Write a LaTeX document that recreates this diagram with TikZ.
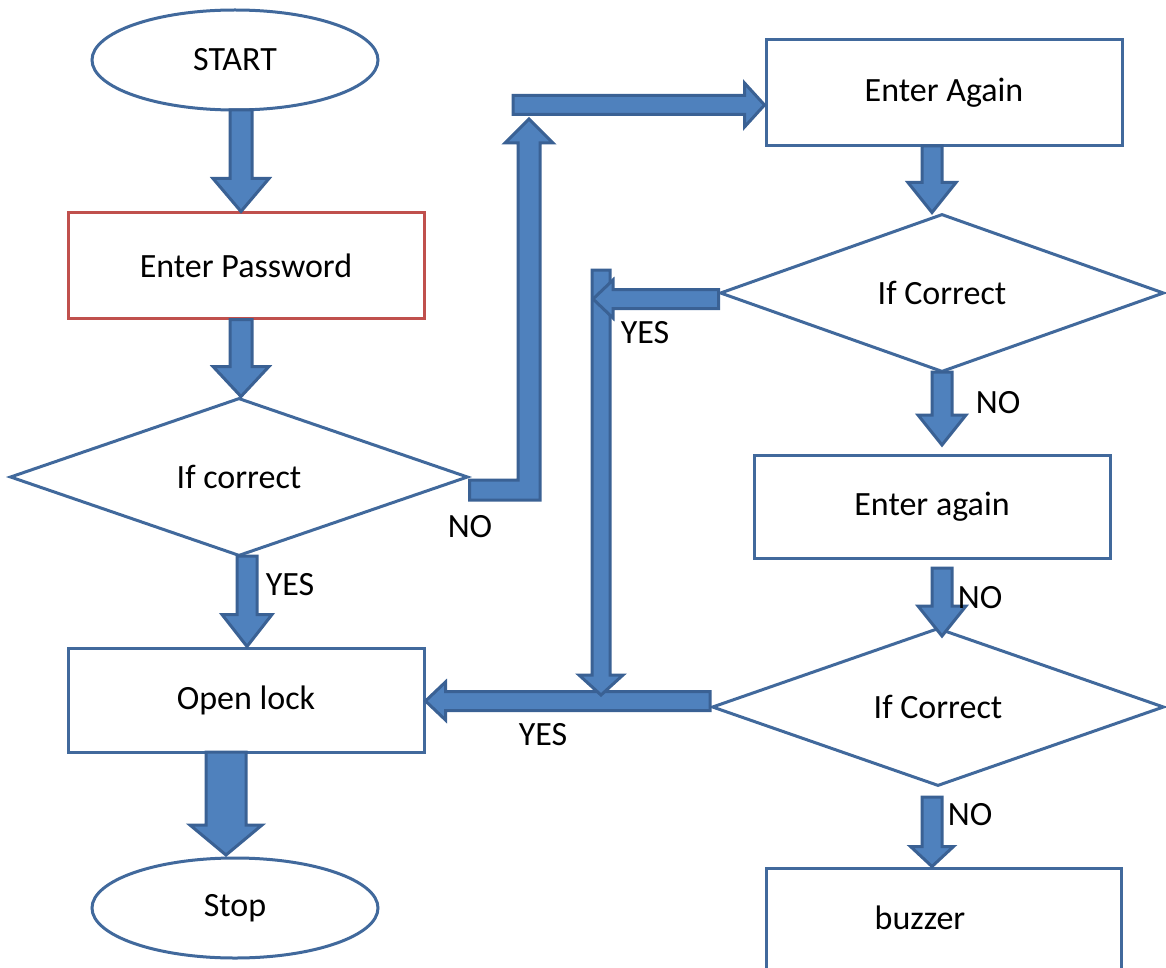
\documentclass[tikz,border=0pt]{standalone}
\usepackage{fontspec}
\setmainfont{Carlito}
\usetikzlibrary{shapes.geometric,calc}
\definecolor{afill}{HTML}{4F81BD}
\definecolor{aline}{HTML}{3A6194}
\definecolor{sline}{HTML}{41699C}
\definecolor{rline}{HTML}{C0504D}
\tikzset{
  shp/.style={draw=sline, line width=3pt, inner sep=0pt, fill=white,
    font=\fontsize{34}{40}\selectfont},
  oval/.style={shp, ellipse, minimum width=286pt, minimum height=100pt},
  box/.style={shp, rectangle, minimum width=356pt},
  dia/.style={shp, diamond, minimum height=158pt},
  blk/.style={fill=afill, draw=aline, line width=3pt, line join=miter},
  lbl/.style={font=\fontsize{34}{40}\selectfont, inner sep=0pt}
}
% #1 start, #2 tip, #3 half shaft, #4 half head, #5 head length
\newcommand{\blkarrow}[5]{%
  \coordinate (bah) at ($(#2)!#5!(#1)$);
  \draw[blk] ($(#1)!#3!90:(#2)$) -- ($(bah)!#3!90:(#2)$) -- ($(bah)!#4!90:(#2)$)
    -- (#2) -- ($(bah)!#4!-90:(#2)$) -- ($(bah)!#3!-90:(#2)$)
    -- ($(#1)!#3!-90:(#2)$) -- cycle;}
\begin{document}
\begin{tikzpicture}[x=1pt,y=-1pt]
\useasboundingbox (0,0) rectangle (1166,968);
\clip (0,0) rectangle (1166,968);
% nodes
\node[oval] (start) at (235,60) {START};
\node[box, draw=rline, minimum height=105pt] (pw) at (246,265.5) {Enter Password};
\node[dia, minimum width=458pt] (d1) at (239,477) {If correct};
\node[box, minimum height=104pt] (open) at (246,700) {Open lock};
\node[oval] (stop) at (235,908) {Stop};
\node[box, minimum height=106pt] (ea) at (944,93) {Enter Again};
\node[dia, minimum width=444pt] (d2) at (942,293) {If Correct};
\node[box, minimum height=103pt] (eb) at (932,506.5) {Enter again};
\node[dia, minimum width=452pt] (d3) at (938,707) {If Correct};
\node[box, minimum height=142pt, minimum width=355pt] (bz) at (943.5,939) {};
\node[lbl] at (920,918) {buzzer};
% connector coordinates
\coordinate (a1s) at (241,110);   \coordinate (a1t) at (pw.north -| a1s);
\coordinate (a2s) at (pw.south -| a1s); \coordinate (a2t) at (d1.north -| a1s);
\coordinate (a3s) at (247,556);   \coordinate (a3t) at (open.north -| a3s);
\coordinate (a4s) at (226,752);   \coordinate (a4t) at (226,855);
\coordinate (a6s) at (513,105);   \coordinate (a6t) at (ea.west |- a6s);
\coordinate (a7s) at (932,146);   \coordinate (a7t) at (d2.north -| a7s);
\coordinate (a8s) at (d2.west |- 0,299); \coordinate (a8t) at (593,299);
\coordinate (a9s) at (601,270);   \coordinate (a9t) at (601,695);
\coordinate (a10s) at (942,372);  \coordinate (a10t) at (942,445);
\coordinate (a11s) at (942,568);  \coordinate (a11t) at (942,636);
\coordinate (a12s) at (710,701);  \coordinate (a12t) at (open.east |- a12s);
\coordinate (a13s) at (932,797);  \coordinate (a13t) at (bz.north -| a13s);
% block arrows
\blkarrow{a1s}{a1t}{11pt}{28pt}{33pt}
\blkarrow{a2s}{a2t}{11pt}{28pt}{30pt}
\blkarrow{a3s}{a3t}{10pt}{25pt}{32pt}
\blkarrow{a4s}{a4t}{20pt}{36pt}{30pt}
% NO from d1: bent arrow up
\draw[blk] (d1.east |- 0,480) -- (518,480) -- (518,143) -- (505,143) -- (529,119)
  -- (553,143) -- (540,143) -- (540,500) -- (d1.east |- 0,500) -- cycle;
\blkarrow{a6s}{a6t}{9.5pt}{22pt}{20pt}
\blkarrow{a7s}{a7t}{10pt}{24pt}{30pt}
\blkarrow{a12s}{a12t}{9.5pt}{19pt}{20pt}
\blkarrow{a9s}{a9t}{9pt}{22pt}{20pt}
\blkarrow{a8s}{a8t}{9.5pt}{19pt}{20pt}
\blkarrow{a10s}{a10t}{10pt}{24pt}{30pt}
\blkarrow{a11s}{a11t}{10pt}{24pt}{30pt}
\blkarrow{a13s}{a13t}{10pt}{21.5pt}{20pt}
% labels
\node[lbl] at (470,527) {NO};
\node[lbl] at (290,585) {YES};
\node[lbl] at (645,333) {YES};
\node[lbl] at (998,403) {NO};
\node[lbl] at (980,598) {NO};
\node[lbl] at (543,735) {YES};
\node[lbl] at (970,815) {NO};
\end{tikzpicture}
\end{document}
